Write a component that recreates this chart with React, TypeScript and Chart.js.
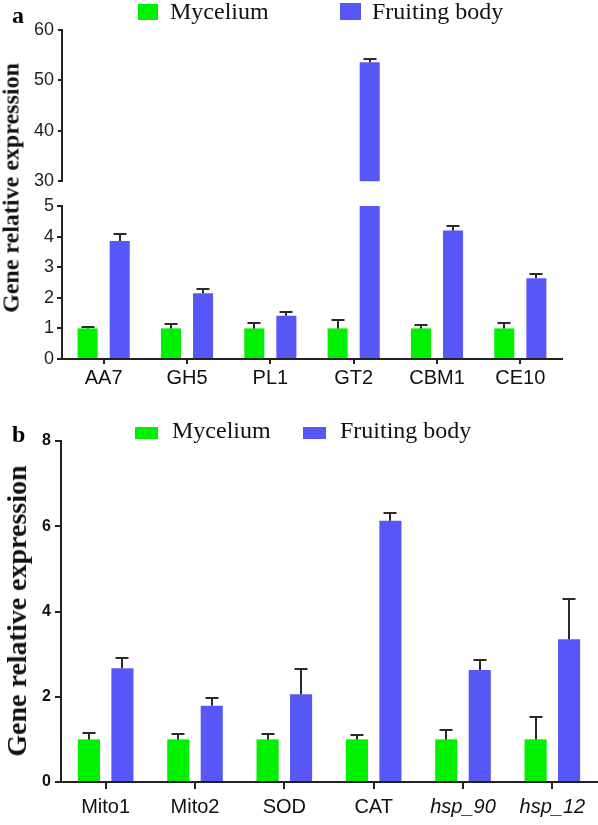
import React, { useEffect, useRef } from 'react';
import { Chart, registerables } from 'chart.js';

Chart.register(...registerables);

// ---------- data ----------
const seriesNames = ['Mycelium', 'Fruiting body'];
const seriesColors = ['#00f000', '#5757f7'];

const categoriesA = ['AA7', 'GH5', 'PL1', 'GT2', 'CBM1', 'CE10'];
const myceliumA = [1.0, 1.0, 1.0, 1.0, 1.0, 1.0];
const myceliumErrA = [0.03, 0.13, 0.18, 0.27, 0.11, 0.18];
const fruitingA = [3.86, 2.15, 1.41, 53.6, 4.2, 2.64];
const fruitingErrA = [0.24, 0.13, 0.13, 0.7, 0.14, 0.14];
const lowerTicksA = [0, 1, 2, 3, 4, 5];
const upperTicksA = [30, 40, 50, 60];

const categoriesB = ['Mito1', 'Mito2', 'SOD', 'CAT', 'hsp_90', 'hsp_12'];
const italicB = [false, false, false, false, true, true];
const myceliumB = [1.0, 1.0, 1.0, 1.0, 1.0, 1.0];
const myceliumErrB = [0.14, 0.12, 0.12, 0.1, 0.22, 0.53];
const fruitingB = [2.67, 1.79, 2.06, 6.13, 2.63, 3.35];
const fruitingErrB = [0.23, 0.17, 0.6, 0.18, 0.23, 0.94];
const ticksB = [0, 2, 4, 6, 8];

const yTitle = 'Gene relative expression';

// ---------- error bar plugin ----------
const errorBarsPlugin = {
  id: 'errorBars',
  afterDatasetsDraw(chart: any, _args: any, opts: any) {
    const ctx = chart.ctx;
    const y = chart.scales.y;
    const cw = opts.capWidth || 12;
    ctx.save();
    ctx.strokeStyle = '#2a2a2a';
    ctx.lineWidth = 2;
    chart.data.datasets.forEach((ds: any, i: number) => {
      const meta = chart.getDatasetMeta(i);
      meta.data.forEach((bar: any, j: number) => {
        const v = ds.data[j];
        const e = ds.errors ? ds.errors[j] : null;
        if (v == null || e == null) return;
        if (v < y.min || v > y.max) return;
        const py0 = y.getPixelForValue(v);
        const py1 = Math.round(y.getPixelForValue(Math.min(v + e, y.max)));
        const x = Math.round(bar.x);
        ctx.beginPath();
        ctx.moveTo(x, py0);
        ctx.lineTo(x, py1);
        ctx.moveTo(x - cw / 2, py1);
        ctx.lineTo(x + cw / 2, py1);
        ctx.stroke();
      });
    });
    ctx.restore();
  },
};

type Spec = {
  top: number;
  height: number;
  categories: string[];
  data: (number | null)[][];
  errors: number[][];
  yTicks: number[];
  showX: boolean;
  padding: { top: number; right: number; bottom: number; left: number };
  yWidth: number;
  xHeight: number;
  catPct: number;
  barPct: number;
  capWidth: number;
  yFont: any;
  yColor: string;
  yTickLength: number;
  yTickPadding: number;
  xTickLength: number;
  xTickPadding: number;
  xFont: any;
};

function makeConfig(p: Spec): any {
  return {
    type: 'bar',
    data: {
      labels: p.categories,
      datasets: p.data.map((d, i) => ({
        label: seriesNames[i],
        data: d,
        errors: p.errors[i],
        backgroundColor: seriesColors[i],
        borderWidth: 0,
        categoryPercentage: p.catPct,
        barPercentage: p.barPct,
        clip: 0,
      })),
    },
    options: {
      responsive: false,
      animation: false,
      devicePixelRatio: 1,
      layout: { padding: p.padding },
      plugins: {
        legend: { display: false },
        tooltip: { enabled: false },
        errorBars: { capWidth: p.capWidth },
      },
      scales: {
        x: {
          display: p.showX,
          offset: true,
          grid: { offset: false, drawOnChartArea: false, tickLength: p.xTickLength, color: '#222', lineWidth: 2 },
          border: { display: true, color: '#222', width: 2 },
          ticks: { autoSkip: false, maxRotation: 0, minRotation: 0, padding: p.xTickPadding, color: '#111', font: p.xFont },
          afterFit: (s: any) => {
            s.height = p.xHeight;
          },
        },
        y: {
          min: p.yTicks[0],
          max: p.yTicks[p.yTicks.length - 1],
          afterBuildTicks: (s: any) => {
            s.ticks = p.yTicks.map((v) => ({ value: v }));
          },
          grid: { drawOnChartArea: false, tickLength: p.yTickLength, color: '#222', lineWidth: 2 },
          border: { display: true, color: '#222', width: 2 },
          ticks: { padding: p.yTickPadding, color: p.yColor, font: p.yFont },
          afterFit: (s: any) => {
            s.width = p.yWidth;
          },
        },
      },
    },
    plugins: [errorBarsPlugin],
  };
}

function BarCanvas({ spec }: { spec: Spec }) {
  const ref = useRef<HTMLCanvasElement>(null);
  useEffect(() => {
    const chart = new Chart(ref.current as HTMLCanvasElement, makeConfig(spec));
    return () => chart.destroy();
  }, []);
  return (
    <canvas
      ref={ref}
      width={598}
      height={spec.height}
      style={{ position: 'absolute', left: 0, top: spec.top, width: 598, height: spec.height }}
    />
  );
}

const serif = "'Liberation Serif', 'Times New Roman', serif";
const sans = "'Liberation Sans', Arial, sans-serif";

function LegendItem({ left, top, boxW, boxH, boxTop, textLeft, color, text }: any) {
  return (
    <>
      <div style={{ position: 'absolute', left, top: boxTop, width: boxW, height: boxH, background: color }} />
      <div
        style={{
          position: 'absolute',
          left: textLeft,
          top,
          fontFamily: serif,
          fontSize: 24,
          lineHeight: '24px',
          color: '#111',
          whiteSpace: 'nowrap',
        }}
      >
        {text}
      </div>
    </>
  );
}

const aUpper: Spec = {
  top: 10,
  height: 186,
  categories: categoriesA,
  data: [
    myceliumA.map((v) => (v >= upperTicksA[0] ? v : null)),
    fruitingA.map((v) => (v >= upperTicksA[0] ? v : null)),
  ],
  errors: [myceliumErrA, fruitingErrA],
  yTicks: upperTicksA,
  showX: false,
  padding: { top: 20, right: 36, bottom: 13, left: 0 },
  yWidth: 62,
  xHeight: 0,
  catPct: 0.77,
  barPct: 0.625,
  capWidth: 13,
  yFont: { family: sans, size: 18 },
  yColor: '#222',
  yTickLength: 4,
  yTickPadding: 4,
  xTickLength: 5,
  xTickPadding: 2,
  xFont: { family: sans, size: 20 },
};

const aLower: Spec = {
  top: 190,
  height: 210,
  categories: categoriesA,
  data: [myceliumA, fruitingA],
  errors: [myceliumErrA, fruitingErrA],
  yTicks: lowerTicksA,
  showX: true,
  padding: { top: 16, right: 36, bottom: 0, left: 0 },
  yWidth: 62,
  xHeight: 41,
  catPct: 0.77,
  barPct: 0.625,
  capWidth: 13,
  yFont: { family: sans, size: 18 },
  yColor: '#222',
  yTickLength: 5,
  yTickPadding: 3,
  xTickLength: 5,
  xTickPadding: 2,
  xFont: { family: sans, size: 20 },
};

const bChart: Spec = {
  top: 420,
  height: 405,
  categories: categoriesB,
  data: [myceliumB, fruitingB],
  errors: [myceliumErrB, fruitingErrB],
  yTicks: ticksB,
  showX: true,
  padding: { top: 21, right: 1, bottom: 0, left: 0 },
  yWidth: 61,
  xHeight: 43,
  catPct: 0.75,
  barPct: 0.66,
  capWidth: 13,
  yFont: { family: sans, size: 16, weight: 'bold' },
  yColor: '#111',
  yTickLength: 6,
  yTickPadding: 4,
  xTickLength: 7,
  xTickPadding: 6,
  xFont: (ctx: any) => ({ family: sans, size: 20, style: italicB[ctx.index] ? 'italic' : 'normal' }),
};

export default function App() {
  return (
    <div
      style={{
        position: 'absolute',
        left: 0,
        top: 0,
        width: 598,
        height: 825,
        overflow: 'hidden',
        background: '#fff',
      }}
    >
      {/* Panel a */}
      <BarCanvas spec={aUpper} />
      <BarCanvas spec={aLower} />
      <div style={{ position: 'absolute', left: 12, top: 3, fontFamily: serif, fontWeight: 'bold', fontSize: 24, lineHeight: '24px' }}>a</div>
      <LegendItem left={138} boxTop={4} boxW={20} boxH={16} top={-1} textLeft={170} color={seriesColors[0]} text={seriesNames[0]} />
      <LegendItem left={340} boxTop={3} boxW={21} boxH={17} top={-1} textLeft={372} color={seriesColors[1]} text={seriesNames[1]} />
      <div
        style={{
          position: 'absolute',
          left: 11,
          top: 188,
          transform: 'translate(-50%, -50%) rotate(-90deg)',
          whiteSpace: 'nowrap',
          fontFamily: serif,
          fontWeight: 'bold',
          fontSize: 24,
          color: '#111',
        }}
      >
        {yTitle}
      </div>

      {/* Panel b */}
      <BarCanvas spec={bChart} />
      <div style={{ position: 'absolute', left: 12, top: 422, fontFamily: serif, fontWeight: 'bold', fontSize: 24, lineHeight: '24px' }}>b</div>
      <LegendItem left={135} boxTop={427} boxW={23} boxH={12} top={418} textLeft={172} color={seriesColors[0]} text={seriesNames[0]} />
      <LegendItem left={303} boxTop={427} boxW={23} boxH={12} top={418} textLeft={340} color={seriesColors[1]} text={seriesNames[1]} />
      <div
        style={{
          position: 'absolute',
          left: 17,
          top: 611,
          transform: 'translate(-50%, -50%) rotate(-90deg)',
          whiteSpace: 'nowrap',
          fontFamily: serif,
          fontWeight: 'bold',
          fontSize: 28,
          color: '#111',
        }}
      >
        {yTitle}
      </div>
    </div>
  );
}
